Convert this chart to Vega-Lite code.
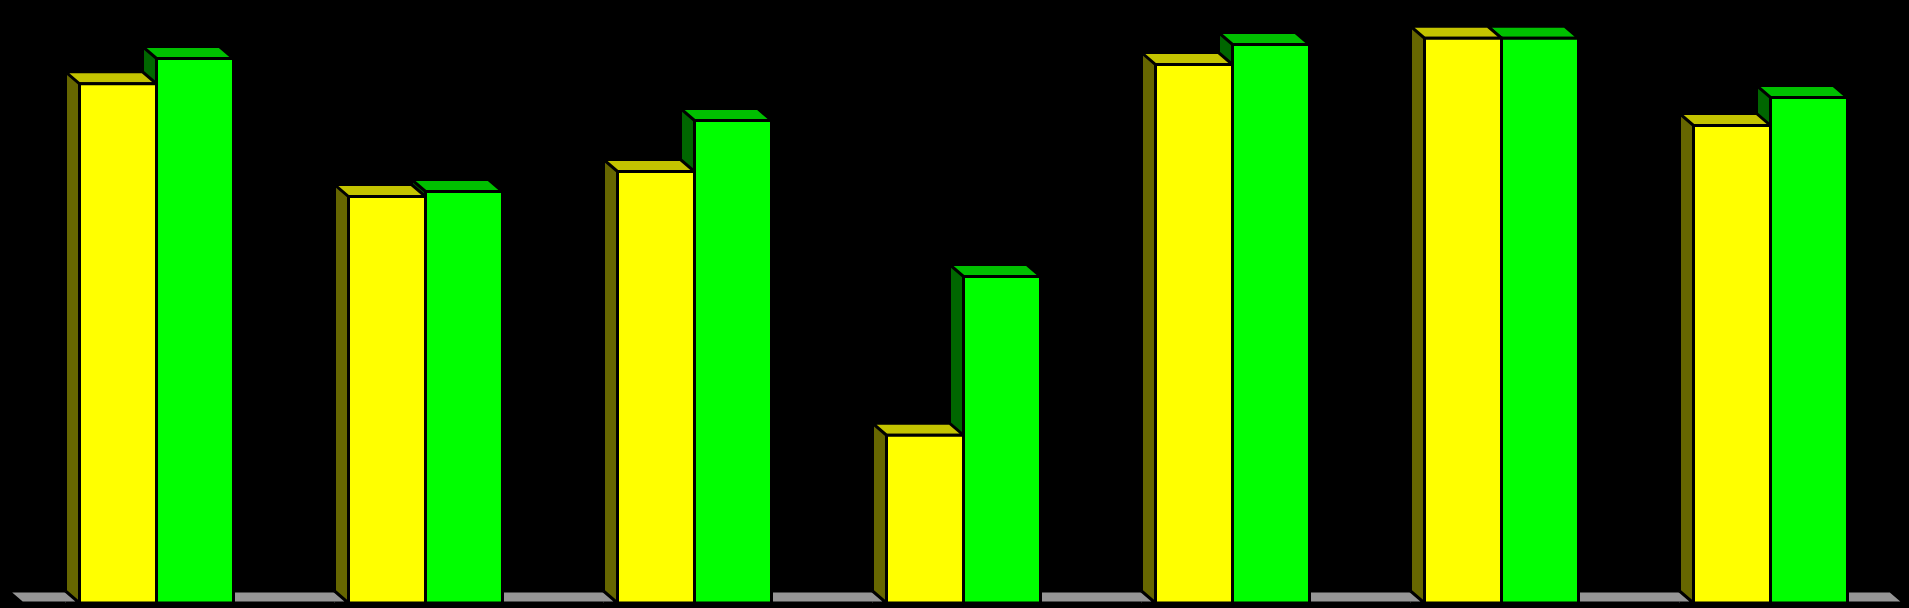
{
  "$schema": "https://vega.github.io/schema/vega-lite/v6.json",
  "width": 1883,
  "height": 603,
  "padding": {"left": 22, "right": 4, "top": 0, "bottom": 5},
  "autosize": {"type": "none"},
  "background": "#000000",
  "config": {"view": {"stroke": null}},
  "data": {"values": [
    {"group": "G1", "series": "A", "value": 86.1},
    {"group": "G1", "series": "B", "value": 90.3},
    {"group": "G2", "series": "A", "value": 67.41},
    {"group": "G2", "series": "B", "value": 68.24},
    {"group": "G3", "series": "A", "value": 71.56},
    {"group": "G3", "series": "B", "value": 80.02},
    {"group": "G4", "series": "A", "value": 27.83},
    {"group": "G4", "series": "B", "value": 54.15},
    {"group": "G5", "series": "A", "value": 89.3},
    {"group": "G5", "series": "B", "value": 92.62},
    {"group": "G6", "series": "A", "value": 93.67},
    {"group": "G6", "series": "B", "value": 93.67},
    {"group": "G7", "series": "A", "value": 79.19},
    {"group": "G7", "series": "B", "value": 83.83}
  ]},
  "encoding": {
    "x": {"field": "group", "type": "nominal", "axis": null, "sort": null,
          "scale": {"domain": ["G1", "G2", "G3", "G4", "G5", "G6", "G7"], "paddingInner": 0, "paddingOuter": 0}},
    "y": {"field": "value", "type": "quantitative", "axis": null,
          "scale": {"domain": [0, 100], "nice": false}}
  },
  "layer": [
    {
      "transform": [{"filter": "datum.group === 'G4' && datum.series === 'A'"}],
      "mark": {"type": "point", "shape": "M -941.5 0 L 941 0 L 927 -12 L -955.5 -12 Z", "size": 4, "filled": true, "fill": "#969696", "stroke": "#000000", "strokeWidth": 3, "opacity": 1},
      "encoding": {"y": {"datum": 0}}
    },
    {
      "transform": [{"filter": "datum.series === 'B'"}],
      "mark": {"type": "rule", "color": "#006600", "strokeWidth": 11, "xOffset": -7, "yOffset": -10.5},
      "encoding": {"y2": {"datum": 0}}
    },
    {
      "transform": [{"filter": "datum.series === 'B'"}],
      "mark": {"type": "point", "shape": "M 0 0 L 77 0 L 63 -12 L -14 -12 Z", "size": 4, "filled": true, "fill": "#00C000", "stroke": "#000000", "strokeWidth": 3, "opacity": 1}
    },
    {
      "transform": [{"filter": "datum.series === 'A'"}],
      "mark": {"type": "rule", "color": "#666600", "strokeWidth": 11, "xOffset": -84, "yOffset": -10.5},
      "encoding": {"y2": {"datum": 0}}
    },
    {
      "transform": [{"filter": "datum.series === 'A'"}],
      "mark": {"type": "point", "shape": "M -91 -12 L -77 0 L -91 0", "size": 4, "filled": true, "fill": "#969696", "stroke": "#000000", "strokeWidth": 3, "opacity": 1},
      "encoding": {"y": {"datum": 0}}
    },
    {
      "transform": [{"filter": "datum.series === 'A'"}],
      "mark": {"type": "point", "shape": "M -77 0 L 0 0 L -14 -12 L -91 -12 Z", "size": 4, "filled": true, "fill": "#C4C400", "stroke": "#000000", "strokeWidth": 3, "opacity": 1}
    },
    {
      "transform": [{"filter": "datum.series === 'A'"}],
      "mark": {"type": "bar", "width": 77, "xOffset": -38.5, "fill": "#FFFF00", "stroke": "#000000", "strokeWidth": 3},
      "encoding": {"y2": {"datum": 0}}
    },
    {
      "transform": [{"filter": "datum.series === 'B'"}],
      "mark": {"type": "bar", "width": 77, "xOffset": 38.5, "fill": "#00FF00", "stroke": "#000000", "strokeWidth": 3},
      "encoding": {"y2": {"datum": 0}}
    }
  ]
}
